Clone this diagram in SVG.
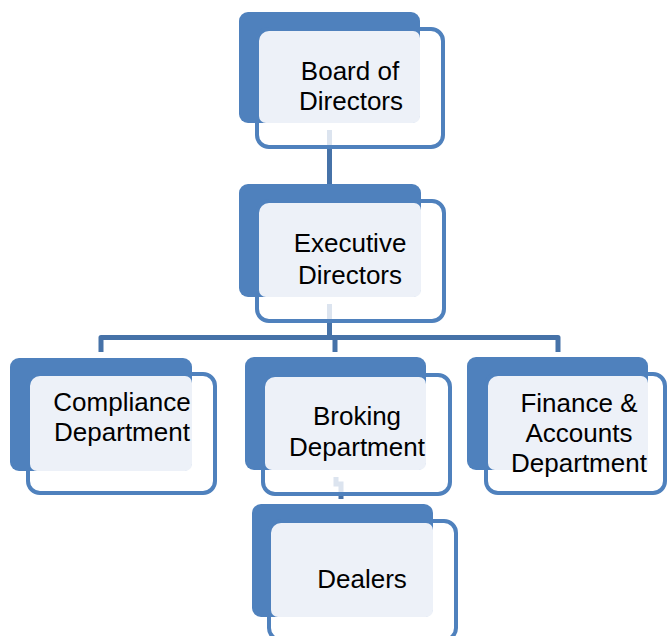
<svg xmlns="http://www.w3.org/2000/svg" width="668" height="636" viewBox="0 0 668 636">
<style>
.back{fill:#4F81BD}
.light{fill:#EDF1F8}
.front{fill:none;stroke:#4F81BD;stroke-width:4}
.t{font-family:"Liberation Sans",Arial,sans-serif;font-size:26px;fill:#000;text-anchor:middle}
.c{fill:none;stroke:#4672A8;stroke-width:5;stroke-linejoin:round}
.p{fill:none;stroke:#DCE4EF;stroke-width:5}
</style>
<rect width="668" height="636" fill="#fff"/>
<g id="connectors">
<path class="p" d="M329.5 130V147"/>
<path class="c" d="M329.5 149V185"/>
<path class="p" d="M329.5 304V321"/>
<path class="c" d="M329.5 323V337.5M101 352V337.5H558V352M335 337.5V352"/>
<path class="p" d="M336 477V484H341V494"/>
<path class="c" d="M341 495V499"/>
</g>
<g id="board">
<rect class="back" x="239" y="12" width="181" height="111" rx="9"/>
<rect class="light" x="259" y="31" width="161" height="92" rx="7"/>
<rect class="front" x="257" y="29" width="186" height="118" rx="12"/>
<text class="t" x="350" y="80">Board of</text>
<text class="t" x="351" y="110">Directors</text>
</g>
<g id="executive">
<rect class="back" x="239" y="184" width="182" height="113" rx="9"/>
<rect class="light" x="259" y="203" width="162" height="94" rx="7"/>
<rect class="front" x="257" y="201" width="187" height="120" rx="12"/>
<text class="t" x="350" y="252">Executive</text>
<text class="t" x="350" y="284">Directors</text>
</g>
<g id="compliance">
<rect class="back" x="10" y="358" width="182" height="113" rx="9"/>
<rect class="light" x="30" y="376" width="162" height="95" rx="7"/>
<rect class="front" x="28" y="374" width="187" height="119" rx="12"/>
<text class="t" x="122" y="411">Compliance</text>
<text class="t" x="122" y="441">Department</text>
</g>
<g id="broking">
<rect class="back" x="245" y="357" width="181" height="113" rx="9"/>
<rect class="light" x="265" y="377" width="161" height="93" rx="7"/>
<rect class="front" x="263" y="375" width="187" height="119" rx="12"/>
<text class="t" x="357" y="425">Broking</text>
<text class="t" x="357" y="456">Department</text>
</g>
<g id="finance">
<rect class="back" x="467" y="357" width="181" height="113" rx="9"/>
<rect class="light" x="488" y="376" width="160" height="94" rx="7"/>
<rect class="front" x="486" y="374" width="179" height="119" rx="12"/>
<text class="t" x="579" y="412">Finance &amp;</text>
<text class="t" x="579" y="442">Accounts</text>
<text class="t" x="579" y="472">Department</text>
</g>
<g id="dealers">
<rect class="back" x="252" y="504" width="181" height="113" rx="9"/>
<rect class="light" x="271" y="523" width="162" height="94" rx="7"/>
<rect class="front" x="269" y="521" width="187" height="119" rx="12"/>
<text class="t" x="362" y="588">Dealers</text>
</g>
</svg>
